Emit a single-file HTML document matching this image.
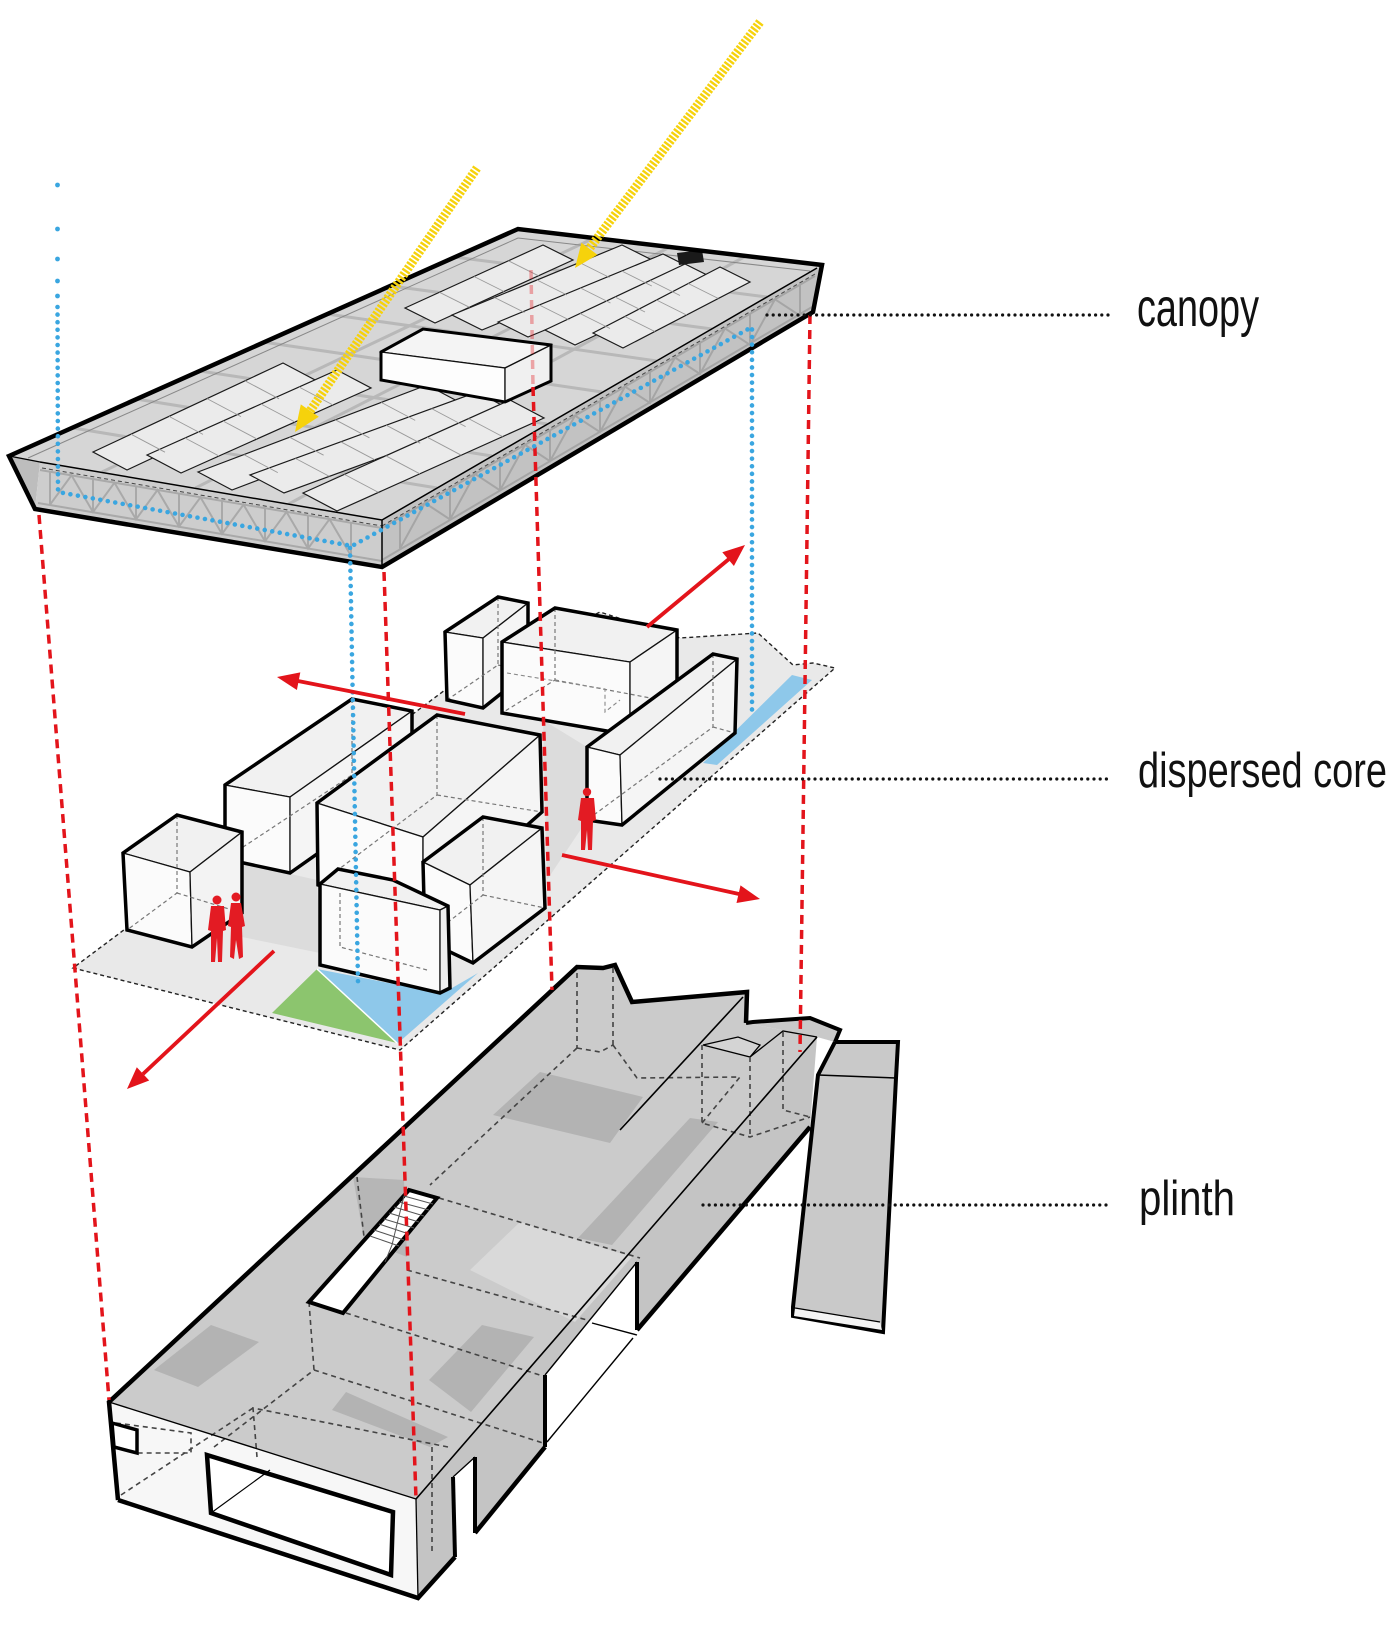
<!DOCTYPE html>
<html><head><meta charset="utf-8"><style>
html,body{margin:0;padding:0;background:#fff;}
svg{display:block;}
.lbl{font-family:"Liberation Sans Narrow","Liberation Sans",sans-serif;fill:#111;}
</style></head><body>
<svg width="1400" height="1633" viewBox="0 0 1400 1633" xmlns="http://www.w3.org/2000/svg">
<rect width="1400" height="1633" fill="#fff"/>

<!-- ================= PLINTH ================= -->
<g stroke-linejoin="miter">
  <!-- right bar -->
  <polygon points="835,1042 898,1042 896,1078 883,1332 793,1316 793,1307 818,1075" fill="#c9c9c9" stroke="#000" stroke-width="4"/>
  <line x1="818" y1="1075" x2="896" y2="1078" stroke="#000" stroke-width="1.5"/>
  <polygon points="795,1308 880,1322 882,1330 794,1316" fill="#f4f4f4"/>
  <line x1="795" y1="1308" x2="880" y2="1322" stroke="#000" stroke-width="1.3"/>

  <!-- front face -->
  <polygon points="109,1402 416,1499 418,1598 118,1500" fill="#f7f7f7"/>
  <!-- right face -->
  <polygon points="416,1499 817,1037 810,1127 637,1330 637,1262 545,1375 545,1447 418,1598" fill="#c4c4c4"/>
  <!-- top surface -->
  <polygon points="109,1402 577,967 603,968 615,965 632,1002 747,992 746,1023 817,1037 416,1499" fill="#cbcbcb"/>
  <!-- patches -->
  <polygon points="470,1270 520,1222 632,1257 575,1322" fill="#d9d9d9"/>
  <polygon points="353,1177 404,1180 407,1257 364,1240" fill="#b6b6b6"/>
  <polygon points="154,1370 198,1387 259,1342 211,1325" fill="#b3b3b3"/>
  <polygon points="429,1380 471,1412 534,1337 482,1325" fill="#b3b3b3"/>
  <polygon points="332,1410 346,1392 448,1437 430,1447" fill="#b3b3b3"/>
  <polygon points="493,1115 540,1072 643,1097 610,1143" fill="#b3b3b3"/>
  <polygon points="578,1238 690,1118 718,1122 612,1245" fill="#b3b3b3"/>

  <!-- wing -->
  <polygon points="746,1023 753,1022 810,1018 840,1030 835,1042 817,1037" fill="#c9c9c9"/>
  <polyline points="746,1023 753,1022 810,1018 840,1030 835,1042" fill="none" stroke="#000" stroke-width="4"/>
  <polygon points="703,1045 738,1037 760,1045 750,1057" fill="#d4d4d4" stroke="#000" stroke-width="1.3"/>
  <polyline points="750,1057 783,1031 817,1037" fill="none" stroke="#000" stroke-width="1.3"/>

  <!-- dashed hidden lines on plinth -->
  <g fill="none" stroke="#444" stroke-width="1.6" stroke-dasharray="5 4">
    <line x1="577" y1="973" x2="577" y2="1048"/>
    <line x1="613" y1="968" x2="613" y2="1045"/>
    <polyline points="577,1048 600,1052 613,1045"/>
    <line x1="577" y1="1048" x2="430" y2="1185"/>
    <polyline points="613,1045 637,1078 740,1077"/>
    <line x1="439" y1="1198" x2="640" y2="1258"/>
    <line x1="407" y1="1270" x2="587" y2="1320"/>
    <polyline points="702,1045 702,1123 750,1137 810,1117"/>
    <line x1="750" y1="1057" x2="750" y2="1137"/>
    <line x1="702" y1="1123" x2="740" y2="1077"/>
    <polyline points="783,1032 783,1110 810,1117"/>
    <line x1="357" y1="1177" x2="364" y2="1237"/>
    <line x1="346" y1="1313" x2="546" y2="1377"/>
    <line x1="314" y1="1370" x2="543" y2="1443"/>
    <line x1="309" y1="1302" x2="314" y2="1370"/>
    <line x1="214" y1="1447" x2="314" y2="1370"/>
    <polyline points="257,1457 253,1408 448,1447"/>
    <line x1="121" y1="1495" x2="253" y2="1408"/>
    <polyline points="116,1423 191,1433 191,1453 137,1453"/>
    <line x1="432" y1="1447" x2="432" y2="1553"/>
  </g>

  <!-- cutout lines -->
  <line x1="545" y1="1375" x2="637" y2="1262" stroke="#000" stroke-width="1.4"/>
  <line x1="547" y1="1442" x2="633" y2="1338" stroke="#000" stroke-width="1.4"/>
  <line x1="592" y1="1323" x2="637" y2="1335" stroke="#000" stroke-width="1.4"/>
  <!-- door -->
  <polygon points="453,1477 475,1457 475,1533 455,1557" fill="#fff"/>
  <line x1="453" y1="1477" x2="475" y2="1457" stroke="#000" stroke-width="1.3"/>
  <line x1="453" y1="1477" x2="455" y2="1557" stroke="#000" stroke-width="4"/>
  <line x1="475" y1="1457" x2="475" y2="1533" stroke="#000" stroke-width="4"/>

  <!-- thin edges -->
  <line x1="416" y1="1499" x2="817" y2="1037" stroke="#000" stroke-width="1.6"/>
  <line x1="109" y1="1402" x2="416" y2="1499" stroke="#000" stroke-width="1.4"/>
  <line x1="416" y1="1499" x2="418" y2="1598" stroke="#000" stroke-width="1.3"/>
  <line x1="743" y1="997" x2="620" y2="1130" stroke="#000" stroke-width="1.6"/>

  <!-- thick outlines -->
  <polyline points="118,1500 109,1402 577,967 603,968 615,965 632,1002 747,992 746,1023" fill="none" stroke="#000" stroke-width="4.5"/>
  <polyline points="118,1500 418,1598 455,1557" fill="none" stroke="#000" stroke-width="4.5"/>
  <line x1="475" y1="1533" x2="545" y2="1447" stroke="#000" stroke-width="4.5"/>
  <line x1="545" y1="1375" x2="545" y2="1447" stroke="#000" stroke-width="4"/>
  <line x1="637" y1="1262" x2="637" y2="1330" stroke="#000" stroke-width="4"/>
  <polyline points="637,1330 810,1127" fill="none" stroke="#000" stroke-width="4.5"/>

  <!-- front opening and window -->
  <polygon points="207,1455 393,1512 391,1575 211,1513" fill="#fff" stroke="#000" stroke-width="4.5"/>
  <line x1="211" y1="1513" x2="270" y2="1470" stroke="#000" stroke-width="1.2"/>
  <polygon points="112,1423 137,1430 137,1453 114,1447" fill="#fff" stroke="#000" stroke-width="3.5"/>

  <!-- stair opening -->
  <polygon points="309,1302 409,1190 437,1198 343,1313" fill="#fff" stroke="#000" stroke-width="4"/>
  <g stroke="#555" stroke-width="1">
    <line x1="404" y1="1196" x2="433" y2="1204"/>
    <line x1="399" y1="1202" x2="429" y2="1210"/>
    <line x1="394" y1="1207" x2="424" y2="1216"/>
    <line x1="389" y1="1213" x2="419" y2="1222"/>
    <line x1="384" y1="1219" x2="414" y2="1228"/>
    <line x1="379" y1="1224" x2="409" y2="1234"/>
    <line x1="374" y1="1230" x2="404" y2="1240"/>
    <line x1="370" y1="1236" x2="399" y2="1246"/>
    <polyline points="404,1196 398,1220 392,1245 385,1262" fill="none"/>
  </g>
</g>

<!-- ================= DISPERSED CORE ================= -->
<g stroke-linejoin="miter">
  <polygon points="73,968 400,1050 835,668 813,663 793,665 758,633 680,638 600,612 445,690" fill="#e9e9e9" stroke="#222" stroke-width="1.4" stroke-dasharray="4 3"/>
  <polygon points="242,863 317,880 320,953 242,937" fill="#dcdcdc"/>
  <polygon points="543,720 587,747 587,820 547,880" fill="#dcdcdc"/>
  <polygon points="272,1013 317,969 397,1043" fill="#8cc56e"/>
  <polygon points="317,969 440,993 452,988 478,973 398,1043" fill="#8ec8ea"/>
  <line x1="317" y1="969" x2="397" y2="1043" stroke="#fff" stroke-width="1.5"/>
  <polygon points="703,763 792,675 812,680 717,765" fill="#8ec8ea"/>

  <!-- box 6 -->
  <polygon points="445,632 498,597 528,603 483,638" fill="#f1f1f1" stroke="#111" stroke-width="1.3"/>
  <polygon points="445,632 483,638 483,708 447,700" fill="#fbfbfb" stroke="#111" stroke-width="1.3"/>
  <polygon points="483,638 528,603 528,672 483,708" fill="#f5f5f5" stroke="#111" stroke-width="1.3"/>
  <polyline points="498,597 498,665 447,700" fill="none" stroke="#777" stroke-width="1.2" stroke-dasharray="4 3"/>
  <polyline points="498,665 528,672" fill="none" stroke="#777" stroke-width="1.2" stroke-dasharray="4 3"/>
  <polygon points="445,632 498,597 528,603 528,672 483,708 447,700" fill="none" stroke="#000" stroke-width="3.5"/>

  <!-- box 7 -->
  <polygon points="502,642 555,608 677,630 630,662" fill="#f1f1f1" stroke="#111" stroke-width="1.3"/>
  <polygon points="502,642 630,662 630,735 502,713" fill="#fbfbfb" stroke="#111" stroke-width="1.3"/>
  <polygon points="630,662 677,630 677,703 630,735" fill="#f5f5f5" stroke="#111" stroke-width="1.3"/>
  <polyline points="555,608 555,680 502,713" fill="none" stroke="#777" stroke-width="1.2" stroke-dasharray="4 3"/>
  <polyline points="555,680 677,703" fill="none" stroke="#777" stroke-width="1.2" stroke-dasharray="4 3"/>
  <polyline points="507,673 605,689 605,712 620,700" fill="none" stroke="#888" stroke-width="1.1" stroke-dasharray="4 3"/>
  <polygon points="502,642 555,608 677,630 677,703 630,735 502,713" fill="none" stroke="#000" stroke-width="3.5"/>

  <!-- box 8 -->
  <polygon points="587,747 713,654 737,659 620,755" fill="#f1f1f1" stroke="#111" stroke-width="1.3"/>
  <polygon points="587,747 620,755 622,825 587,820" fill="#fbfbfb" stroke="#111" stroke-width="1.3"/>
  <polygon points="620,755 737,659 735,733 622,825" fill="#f5f5f5" stroke="#111" stroke-width="1.3"/>
  <polyline points="713,654 713,727 587,820" fill="none" stroke="#777" stroke-width="1.2" stroke-dasharray="4 3"/>
  <polyline points="713,727 735,733" fill="none" stroke="#777" stroke-width="1.2" stroke-dasharray="4 3"/>
  <polygon points="587,747 713,654 737,659 735,733 622,825 587,820" fill="none" stroke="#000" stroke-width="3.5"/>

  <!-- box 2 -->
  <polygon points="225,785 352,699 412,711 290,797" fill="#f1f1f1" stroke="#111" stroke-width="1.3"/>
  <polygon points="225,785 290,797 290,873 225,859" fill="#fbfbfb" stroke="#111" stroke-width="1.3"/>
  <polygon points="290,797 412,711 412,787 290,873" fill="#f5f5f5" stroke="#111" stroke-width="1.3"/>
  <polyline points="352,699 352,775 225,859" fill="none" stroke="#777" stroke-width="1.2" stroke-dasharray="4 3"/>
  <polyline points="352,775 412,787" fill="none" stroke="#777" stroke-width="1.2" stroke-dasharray="4 3"/>
  <polygon points="225,785 352,699 412,711 412,787 290,873 225,859" fill="none" stroke="#000" stroke-width="3.5"/>

  <!-- box 3 -->
  <polygon points="317,803 437,715 540,735 423,837" fill="#f1f1f1" stroke="#111" stroke-width="1.3"/>
  <polygon points="317,803 423,837 423,917 318,885" fill="#fbfbfb" stroke="#111" stroke-width="1.3"/>
  <polygon points="423,837 540,735 542,812 423,917" fill="#f5f5f5" stroke="#111" stroke-width="1.3"/>
  <polyline points="437,715 437,795 318,885" fill="none" stroke="#777" stroke-width="1.2" stroke-dasharray="4 3"/>
  <polyline points="437,795 542,812" fill="none" stroke="#777" stroke-width="1.2" stroke-dasharray="4 3"/>
  <polygon points="317,803 437,715 540,735 542,812 423,917 318,885" fill="none" stroke="#000" stroke-width="3.5"/>

  <!-- box 1 cube -->
  <polygon points="123,853 177,815 242,832 190,872" fill="#f1f1f1" stroke="#111" stroke-width="1.3"/>
  <polygon points="123,853 190,872 192,947 127,930" fill="#fbfbfb" stroke="#111" stroke-width="1.3"/>
  <polygon points="190,872 242,832 242,913 192,947" fill="#f3f3f3" stroke="#111" stroke-width="1.3"/>
  <polyline points="177,815 177,893 127,930" fill="none" stroke="#777" stroke-width="1.2" stroke-dasharray="4 3"/>
  <polyline points="177,893 242,913" fill="none" stroke="#777" stroke-width="1.2" stroke-dasharray="4 3"/>
  <polygon points="123,853 177,815 242,832 242,913 192,947 127,930" fill="none" stroke="#000" stroke-width="3.5"/>

  <!-- box 5 -->
  <polygon points="423,862 483,817 542,828 470,885" fill="#f1f1f1" stroke="#111" stroke-width="1.3"/>
  <polygon points="423,862 470,885 473,963 425,940" fill="#fbfbfb" stroke="#111" stroke-width="1.3"/>
  <polygon points="470,885 542,828 545,908 473,963" fill="#f5f5f5" stroke="#111" stroke-width="1.3"/>
  <polyline points="483,817 483,895 425,940" fill="none" stroke="#777" stroke-width="1.2" stroke-dasharray="4 3"/>
  <polyline points="483,895 545,908" fill="none" stroke="#777" stroke-width="1.2" stroke-dasharray="4 3"/>
  <polygon points="423,862 483,817 542,828 545,908 473,963 425,940" fill="none" stroke="#000" stroke-width="3.5"/>

  <!-- box 4 -->
  <polygon points="320,884 338,869 393,880 448,906 440,910" fill="#f1f1f1" stroke="#111" stroke-width="1.3"/>
  <polygon points="320,884 440,910 440,993 320,965" fill="#fbfbfb" stroke="#111" stroke-width="1.3"/>
  <polygon points="440,910 448,906 450,988 440,993" fill="#eeeeee" stroke="#111" stroke-width="1.3"/>
  <polyline points="340,893 340,947 427,970" fill="none" stroke="#777" stroke-width="1.2" stroke-dasharray="4 3"/>
  <polygon points="320,884 338,869 393,880 448,906 450,988 440,993 320,965" fill="none" stroke="#000" stroke-width="3.5"/>

  <!-- people -->
  <g fill="#e31b23">
    <circle cx="217" cy="900" r="4.5"/>
    <path d="M211,906 L224,906 L226,930 L223,931 L222,962 L218,962 L217,938 L215,962 L211,962 L211,931 L208,930 Z"/>
    <circle cx="236" cy="897" r="4.5"/>
    <path d="M231,903 L241,903 L245,926 L242,927 L243,957 L239,959 L236,940 L234,959 L230,957 L231,927 L228,926 Z"/>
    <circle cx="587" cy="792" r="4.2"/>
    <path d="M581,798 L594,798 L596,820 L593,821 L592,850 L588,850 L587,830 L585,850 L581,850 L581,821 L578,820 Z"/>
  </g>
</g>

<!-- ================= CANOPY ================= -->
<g stroke-linejoin="miter">
  <polygon points="9,456 40,462 35,509" fill="#bdbdbd"/>
  <polygon points="40,462 382,520 382,567 35,509" fill="#cdcdcd"/>
  <polygon points="382,520 817,268 822,265 813,312 382,567" fill="#c2c2c2"/>
  <polygon points="9,456 518,229 822,265 817,268 382,520 40,462" fill="#d6d6d6"/>

  <!-- trusses front face -->
  <g fill="none" stroke="#a9a9a9" stroke-width="2">
    <line x1="40" y1="470" x2="382" y2="528"/>
    <line x1="38" y1="503" x2="382" y2="561"/>
    <line x1="50" y1="471.7" x2="50" y2="504.7"/><line x1="93" y1="479" x2="93" y2="512"/>
    <line x1="136" y1="486.3" x2="136" y2="519.3"/><line x1="179" y1="493.6" x2="179" y2="526.6"/>
    <line x1="222" y1="500.9" x2="222" y2="533.9"/><line x1="265" y1="508.2" x2="265" y2="541.2"/>
    <line x1="308" y1="515.5" x2="308" y2="548.5"/><line x1="351" y1="522.8" x2="351" y2="555.8"/>
    <polyline points="50,504.7 71.5,475.3 93,512 114.5,482.7 136,519.3 157.5,490 179,526.6 200.5,497.3 222,533.9 243.5,504.6 265,541.2 286.5,511.9 308,548.5 329.5,519.2 351,555.8"/>
  </g>
  <!-- trusses right face -->
  <g fill="none" stroke="#a5a5a5" stroke-width="2">
    <line x1="382" y1="528" x2="815" y2="276"/>
    <line x1="382" y1="560" x2="812" y2="307"/>
    <line x1="400" y1="517.5" x2="400" y2="548.5"/><line x1="450" y1="488.4" x2="450" y2="519.4"/>
    <line x1="500" y1="459.3" x2="500" y2="490.3"/><line x1="550" y1="430.2" x2="550" y2="461.2"/>
    <line x1="600" y1="401.1" x2="600" y2="432.1"/><line x1="650" y1="372" x2="650" y2="403"/>
    <line x1="700" y1="342.9" x2="700" y2="373.9"/><line x1="750" y1="313.8" x2="750" y2="344.8"/>
    <line x1="800" y1="284.7" x2="800" y2="315.7"/>
    <polyline points="400,548.5 425,503 450,519.4 475,473.9 500,490.3 525,444.8 550,461.2 575,415.7 600,432.1 625,386.6 650,403 675,357.5 700,373.9 725,328.4 750,344.8 775,299.3 800,315.7"/>
  </g>
  <g stroke="#444" stroke-width="1" stroke-dasharray="4 3" fill="none">
    <line x1="42" y1="468" x2="382" y2="526"/>
    <line x1="382" y1="526" x2="815" y2="274"/>
  </g>
  <!-- trusses visible through top -->
  <g fill="none" stroke="#b8b8b8" stroke-width="3">
    <line x1="288.75" y1="504" x2="746" y2="256"/>
    <line x1="195.5" y1="488" x2="670" y2="247"/>
    <line x1="102" y1="472" x2="594" y2="238"/>
    <line x1="437" y1="488" x2="73" y2="428"/>
    <line x1="492" y1="456" x2="136" y2="399"/>
    <line x1="547" y1="424" x2="200" y2="371"/>
    <line x1="602" y1="392" x2="263" y2="342"/>
    <line x1="657" y1="361" x2="327" y2="314"/>
    <line x1="712" y1="329" x2="391" y2="286"/>
    <line x1="767" y1="297" x2="454" y2="257"/>
  </g>
  <line x1="28" y1="458" x2="518" y2="238" stroke="#888" stroke-width="1"/>
  <line x1="518" y1="238" x2="810" y2="271" stroke="#888" stroke-width="1"/>

  <!-- solar strips left group -->
  <g fill="#ebebeb" stroke="#1a1a1a" stroke-width="1.2">
    <polygon points="93,452 283,363 317,381 127,470"/>
    <polygon points="147,455 337,370 371,388 181,473"/>
    <polygon points="198,472 427,385 461,403 232,490"/>
    <polygon points="250,475 477,392 511,410 284,493"/>
    <polygon points="303,493 510,400 544,418 337,511"/>
  </g>
  <g stroke="#9a9a9a" stroke-width="0.9">
    <line x1="131" y1="434.2" x2="165" y2="452.2"/><line x1="169" y1="416.4" x2="203" y2="434.4"/><line x1="207" y1="398.6" x2="241" y2="416.6"/><line x1="245" y1="380.8" x2="279" y2="398.8"/>
    <line x1="185" y1="438" x2="219" y2="456"/><line x1="223" y1="421" x2="257" y2="439"/><line x1="261" y1="404" x2="295" y2="422"/><line x1="299" y1="387" x2="333" y2="405"/>
    <line x1="243.8" y1="454.6" x2="277.8" y2="472.6"/><line x1="289.6" y1="437.2" x2="323.6" y2="455.2"/><line x1="335.4" y1="419.8" x2="369.4" y2="437.8"/><line x1="381.2" y1="402.4" x2="415.2" y2="420.4"/>
    <line x1="295.4" y1="458.4" x2="329.4" y2="476.4"/><line x1="340.8" y1="441.8" x2="374.8" y2="459.8"/><line x1="386.2" y1="425.2" x2="420.2" y2="443.2"/><line x1="431.6" y1="408.6" x2="465.6" y2="426.6"/>
    <line x1="344.4" y1="474.4" x2="378.4" y2="492.4"/><line x1="385.8" y1="455.8" x2="419.8" y2="473.8"/><line x1="427.2" y1="437.2" x2="461.2" y2="455.2"/><line x1="468.6" y1="418.6" x2="502.6" y2="436.6"/>
  </g>
  <!-- solar strips right group -->
  <g fill="#ebebeb" stroke="#1a1a1a" stroke-width="1.2">
    <polygon points="405,308 543,245 573,260 435,323"/>
    <polygon points="452,315 622,245 652,260 482,330"/>
    <polygon points="498,322 663,254 693,269 528,337"/>
    <polygon points="545,330 685,264 715,279 575,345"/>
    <polygon points="593,333 720,267 750,282 623,348"/>
  </g>
  <g stroke="#9a9a9a" stroke-width="0.9">
    <line x1="439.5" y1="292.3" x2="469.5" y2="307.3"/><line x1="474" y1="276.5" x2="504" y2="291.5"/><line x1="508.5" y1="260.8" x2="538.5" y2="275.8"/>
    <line x1="494.5" y1="297.5" x2="524.5" y2="312.5"/><line x1="537" y1="280" x2="567" y2="295"/><line x1="579.5" y1="262.5" x2="609.5" y2="277.5"/>
    <line x1="539.3" y1="305" x2="569.3" y2="320"/><line x1="580.5" y1="288" x2="610.5" y2="303"/><line x1="621.8" y1="271" x2="651.8" y2="286"/>
    <line x1="580" y1="313.5" x2="610" y2="328.5"/><line x1="615" y1="297" x2="645" y2="312"/><line x1="650" y1="280.5" x2="680" y2="295.5"/>
    <line x1="624.8" y1="316.5" x2="654.8" y2="331.5"/><line x1="656.5" y1="300" x2="686.5" y2="315"/><line x1="688.3" y1="283.5" x2="718.3" y2="298.5"/>
  </g>
  <polygon points="677,253 702,250 704,262 679,265" fill="#1a1a1a"/>

  <!-- skylight box -->
  <polygon points="381,352 423,329 551,345 505,368" fill="#f4f4f4" stroke="#111" stroke-width="1.3"/>
  <polygon points="381,352 505,368 505,402 381,380" fill="#fdfdfd" stroke="#111" stroke-width="1.3"/>
  <polygon points="505,368 551,345 551,381 505,402" fill="#f0f0f0" stroke="#111" stroke-width="1.3"/>
  <polygon points="381,352 423,329 551,345 551,381 505,402 381,380" fill="none" stroke="#000" stroke-width="3"/>

  <!-- pink hidden red line in canopy -->
  <line x1="531" y1="270" x2="533" y2="387" stroke="#e3141b" stroke-opacity="0.35" stroke-width="3.5" stroke-dasharray="9 6"/>

  <!-- canopy outline -->
  <polyline points="40,462 382,520 817,268" fill="none" stroke="#000" stroke-width="1.5"/>
  <line x1="382" y1="520" x2="382" y2="567" stroke="#000" stroke-width="1.5"/>
  <line x1="9" y1="456" x2="40" y2="462" stroke="#000" stroke-width="1.3"/>
  <polygon points="9,456 518,229 822,265 813,312 382,567 35,509" fill="none" stroke="#000" stroke-width="4.5"/>
</g>

<!-- ================= RED DASHED GUIDES ================= -->
<g fill="none" stroke="#e3141b" stroke-width="3.5" stroke-dasharray="9 6">
  <line x1="39" y1="515" x2="109" y2="1400"/>
  <line x1="384" y1="572" x2="416" y2="1499"/>
  <line x1="533" y1="387" x2="552" y2="990"/>
  <line x1="810" y1="315" x2="800" y2="1052"/>
</g>

<!-- ================= BLUE DOTTED ================= -->
<g fill="#3aa6e0">
  <circle cx="57.5" cy="185" r="2.4"/>
  <circle cx="57.5" cy="229" r="2.4"/>
  <circle cx="57.5" cy="259" r="2.4"/>
  <circle cx="57.5" cy="281" r="2.4"/>
  <circle cx="57.5" cy="296" r="2.4"/>
</g>
<g fill="none" stroke="#3aa6e0" stroke-width="4.6" stroke-linecap="round" stroke-dasharray="0 7.6">
  <polyline points="57.5,307 58,492 352,546 752,327 752,715"/>
  <line x1="350" y1="548" x2="358" y2="982"/>
</g>

<!-- ================= YELLOW ARROWS ================= -->
<g>
  <line x1="760" y1="22" x2="589" y2="249" stroke="#f6d20c" stroke-width="9" stroke-dasharray="2.4 1.6"/>
  <polygon points="597.4,254.8 581.4,242.8 575,268" fill="#f6d20c"/>
  <line x1="477" y1="168" x2="310" y2="411" stroke="#f6d20c" stroke-width="9" stroke-dasharray="2.4 1.6"/>
  <polygon points="318.8,416.8 300.8,404.4 295,432" fill="#f6d20c"/>
</g>

<!-- ================= RED ARROWS ================= -->
<g stroke="#e3141b" stroke-width="3.8" fill="none">
  <line x1="647" y1="627" x2="729" y2="559"/>
  <line x1="465" y1="714" x2="298" y2="681"/>
  <line x1="562" y1="855" x2="739" y2="894"/>
  <line x1="274" y1="951" x2="143" y2="1074"/>
</g>
<g fill="#e3141b">
  <polygon points="733.9,566 722.3,552.2 745,545"/>
  <polygon points="300.3,672.4 296.9,690 277,677"/>
  <polygon points="736.5,903 740.5,885.4 760,899"/>
  <polygon points="149.2,1080.5 136.8,1067.3 127,1089"/>
</g>

<!-- ================= LEADERS & LABELS ================= -->
<g fill="none" stroke="#111" stroke-width="3.2" stroke-linecap="round" stroke-dasharray="0 6.2">
  <line x1="767" y1="315" x2="1110" y2="315"/>
  <line x1="660" y1="779" x2="1110" y2="779"/>
  <line x1="703" y1="1205" x2="1110" y2="1205"/>
</g>
<text class="lbl" x="1137" y="326" font-size="54" textLength="122" lengthAdjust="spacingAndGlyphs">canopy</text>
<text class="lbl" x="1138" y="787" font-size="49" textLength="249" lengthAdjust="spacingAndGlyphs">dispersed core</text>
<text class="lbl" x="1139" y="1215" font-size="49" textLength="96" lengthAdjust="spacingAndGlyphs">plinth</text>
</svg>
</body></html>
